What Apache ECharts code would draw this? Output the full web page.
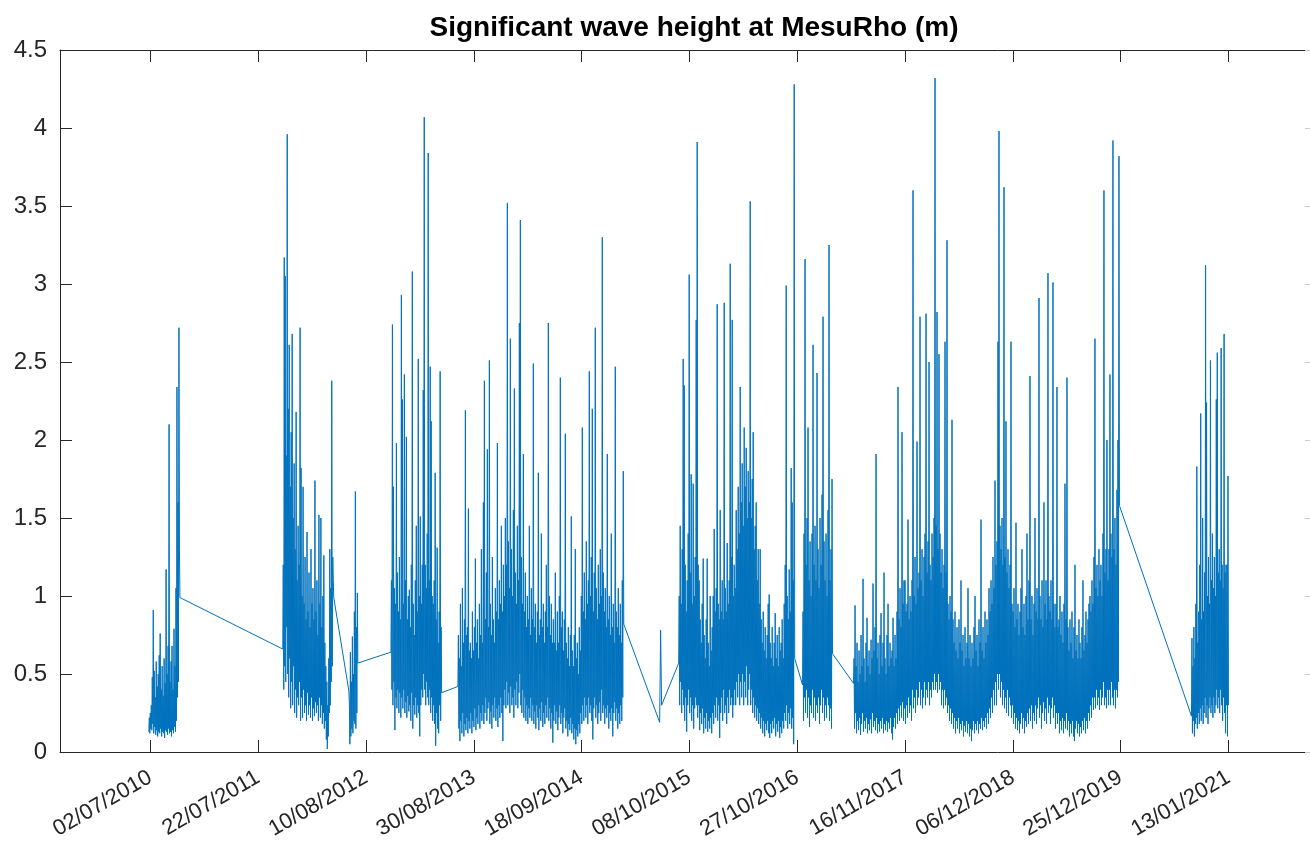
<!DOCTYPE html>
<html>
<head>
<meta charset="utf-8">
<title>Significant wave height at MesuRho</title>
<script src="https://cdn.jsdelivr.net/npm/echarts@6/dist/echarts.min.js"></script>
<style>
  html, body { margin: 0; padding: 0; background: #fff; }
  #chart { width: 1310px; height: 848px; }
</style>
</head>
<body>
<div id="chart"></div>
<script>
// tick dates shown on the time axis (every 385 days)
const tickDates = ['2010-07-02', '2011-07-22', '2012-08-10', '2013-08-30', '2014-09-18',
  '2015-10-08', '2016-10-27', '2017-11-16', '2018-12-06', '2019-12-25', '2021-01-13'];
const axisStart = '2009-08-14';
const axisEnd = '2021-10-31';

// recording periods of the buoy, values evenly spaced inside each period
const segStart = ['2010-06-27', '2011-10-18', '2012-06-10', '2012-11-07', '2013-07-04',
  '2015-06-24', '2015-08-31', '2016-11-15', '2017-05-16', '2020-09-03'];
const segEnd = ['2010-10-16', '2012-04-17', '2012-07-12', '2013-05-07', '2015-02-16',
  '2015-07-01', '2016-10-18', '2017-03-02', '2019-12-21', '2021-01-13'];

// Hs (m)
const hs2010 = [0.13,0.22, 0.12,0.25, 0.15,0.30, 0.14,0.48, 0.18,0.91, 0.12,0.52, 0.16,0.35, 0.11,0.58,
  0.14,0.42, 0.10,0.50, 0.13,0.62, 0.12,0.76, 0.15,0.40, 0.10,0.55, 0.13,0.36, 0.12,0.60, 0.09,0.44,
  0.14,1.17, 0.13,0.50, 0.11,0.68, 0.15,2.10, 0.12,0.45, 0.13,0.58, 0.10,0.68, 0.14,0.40, 0.12,0.79,
  0.16,0.55, 0.13,1.05, 0.20,2.34, 0.35,1.60, 0.45,2.72, 1.30,0.99];
const hs2011 = [0.66,1.20, 0.40,3.17, 0.55,3.05, 0.45,1.90, 0.80,3.96, 0.50,2.20, 0.35,2.61, 0.60,1.70,
  0.28,2.05, 0.45,2.68, 0.30,1.50, 0.55,1.85, 0.25,1.30, 0.40,2.18, 0.22,1.10, 0.35,1.45, 0.30,1.20,
  0.45,2.72, 0.20,1.82, 0.35,1.00, 0.22,1.70, 0.40,0.95, 0.25,1.25, 0.30,0.85, 0.20,1.41, 0.38,0.90,
  0.24,1.15, 0.30,0.80, 0.22,1.30, 0.35,0.95, 0.20,1.05, 0.28,0.85, 0.23,1.74, 0.32,0.90, 0.25,1.10,
  0.30,0.75, 0.20,1.52, 0.35,0.95, 0.22,1.50, 0.30,0.80, 0.18,1.00, 0.25,1.26, 0.15,0.70, 0.20,0.55,
  0.08,0.45, 0.02,0.30, 0.10,0.60, 0.25,1.30, 0.30,1.05, 0.45,2.38, 0.55,1.25, 1.10,0.99];
const hs2012a = [0.39,0.30, 0.05,0.64, 0.10,0.45, 0.15,0.74, 0.12,0.50, 0.20,0.90, 0.18,1.67, 0.15,0.80,
  0.25,1.02, 0.57];
const hs2012b = [0.64,1.10, 0.40,2.74, 0.30,1.70, 0.45,1.05, 0.14,0.95, 0.35,1.98, 0.28,1.15, 0.40,0.90,
  0.25,1.25, 0.38,0.85, 0.22,2.93, 0.35,2.26, 0.28,0.95, 0.40,2.42, 0.25,1.10, 0.32,2.02, 0.22,0.85,
  0.36,1.00, 0.26,1.04, 0.30,0.80, 0.20,1.20, 0.38,3.08, 0.15,0.95, 0.30,0.75, 0.24,1.10, 0.35,1.45,
  0.22,0.90, 0.30,2.52, 0.25,1.00, 0.10,1.51, 0.30,0.95, 0.40,1.20, 0.35,2.32, 0.50,4.07, 0.40,1.20,
  0.30,1.05, 0.45,1.40, 0.35,3.84, 0.30,1.10, 0.40,2.47, 0.25,2.12, 0.35,1.00, 0.20,0.95, 0.30,1.10,
  0.18,1.79, 0.04,0.85, 0.25,1.31, 0.15,0.70, 0.12,0.90, 0.30,2.44, 0.20,0.80, 0.38];
const hs2013 = [0.42,0.75, 0.15,0.60, 0.07,0.95, 0.20,0.55, 0.12,1.05, 0.25,0.70, 0.10,0.85, 0.18,2.19,
  0.14,0.75, 0.22,0.80, 0.12,1.56, 0.20,0.65, 0.15,0.70, 0.25,0.60, 0.12,0.90, 0.20,0.65, 0.16,0.80,
  0.28,1.24, 0.14,0.70, 0.22,0.85, 0.18,0.60, 0.30,0.95, 0.15,0.75, 0.25,1.30, 0.20,0.70, 0.30,1.60,
  0.18,2.38, 0.25,0.85, 0.35,1.15, 0.20,1.94, 0.28,0.80, 0.32,2.51, 0.18,0.95, 0.26,0.75, 0.15,1.25,
  0.30,0.85, 0.22,0.70, 0.35,1.05, 0.20,0.90, 0.28,1.98, 0.16,0.85, 0.30,1.10, 0.22,0.95, 0.35,1.45,
  0.25,0.90, 0.07,1.20, 0.30,1.00, 0.40,1.50, 0.28,1.20, 0.45,3.52, 0.30,1.35, 0.38,1.05, 0.25,2.65,
  0.42,1.30, 0.30,1.00, 0.35,1.55, 0.22,2.33, 0.40,1.15, 0.30,0.95, 0.45,1.45, 0.28,1.10, 0.38,2.75,
  0.50,3.41, 0.30,1.25, 0.25,0.95, 0.40,1.91, 0.22,0.90, 0.35,1.15, 0.20,0.80, 0.30,1.00, 0.18,0.85,
  0.28,1.45, 0.22,0.75, 0.35,1.05, 0.20,0.85, 0.30,2.49, 0.18,0.80, 0.26,0.95, 0.15,0.70, 0.30,0.90,
  0.22,1.79, 0.14,0.75, 0.28,0.85, 0.20,1.40, 0.32,0.80, 0.16,0.95, 0.25,0.70, 0.18,0.90, 0.30,1.20,
  0.22,0.80, 0.35,2.75, 0.20,1.00, 0.28,0.75, 0.15,0.95, 0.25,0.70, 0.06,0.85, 0.20,0.70, 0.30,1.15,
  0.18,0.65, 0.26,0.90, 0.14,0.70, 0.22,1.00, 0.30,2.40, 0.18,0.80, 0.25,0.90, 0.12,0.65, 0.22,0.85,
  0.28,2.04, 0.15,0.70, 0.20,0.60, 0.10,0.80, 0.18,0.55, 0.14,0.75, 0.22,1.51, 0.12,0.65, 0.18,0.55,
  0.08,0.75, 0.15,1.30, 0.05,0.60, 0.14,0.70, 0.10,0.50, 0.18,0.80, 0.12,0.65, 0.25,1.00, 0.18,2.08,
  0.30,0.90, 0.20,1.15, 0.35,0.85, 0.22,1.35, 0.30,0.95, 0.18,1.10, 0.35,2.44, 0.25,1.00, 0.30,1.25,
  0.20,2.20, 0.08,0.90, 0.28,1.15, 0.35,2.72, 0.22,1.05, 0.30,0.85, 0.18,1.20, 0.25,0.95, 0.32,1.30,
  0.20,1.00, 0.40,3.30, 0.25,1.15, 0.30,0.90, 0.18,1.05, 0.28,0.80, 0.22,1.91, 0.30,0.85, 0.15,1.00,
  0.25,0.75, 0.20,1.40, 0.28,0.80, 0.10,0.95, 0.25,0.70, 0.32,2.47, 0.20,0.90, 0.28,0.80, 0.15,1.05,
  0.25,0.75, 0.18,0.95, 0.30,0.70, 0.20,1.10, 0.35,1.80, 0.82];
const hs2015a = [0.19, 0.78, 0.30];
const hs2015b = [0.57,1.00, 0.30,1.45, 0.45,0.95, 0.25,1.30, 0.40,2.52, 0.30,2.35, 0.20,1.20, 0.35,0.90,
  0.13,1.10, 0.30,1.40, 0.40,3.06, 0.25,1.15, 0.35,1.78, 0.20,0.95, 0.30,1.72, 0.15,1.00, 0.28,1.25,
  0.35,2.77, 0.30,3.91, 0.22,1.20, 0.30,1.10, 0.14,0.85, 0.25,0.70, 0.18,0.95, 0.28,1.24, 0.12,0.75,
  0.22,0.60, 0.15,0.85, 0.25,1.24, 0.13,0.70, 0.20,0.55, 0.15,1.00, 0.22,0.65, 0.12,0.80, 0.25,1.00,
  0.18,1.43, 0.30,0.90, 0.22,1.05, 0.35,2.87, 0.20,0.95, 0.30,0.85, 0.09,1.55, 0.25,0.90, 0.35,1.10,
  0.20,0.85, 0.40,2.88, 0.25,1.05, 0.30,0.90, 0.18,1.34, 0.35,0.95, 0.25,1.10, 0.40,3.13, 0.30,1.25,
  0.35,2.77, 0.22,1.00, 0.30,1.20, 0.40,1.05, 0.30,1.55, 0.45,1.30, 0.35,1.70, 0.50,1.40, 0.30,2.34,
  0.45,1.60, 0.35,1.85, 0.50,1.45, 0.30,2.08, 0.45,1.70, 0.35,1.95, 0.55,1.50, 0.30,1.80, 0.40,1.60,
  0.50,3.53, 0.30,1.50, 0.40,1.75, 0.25,2.05, 0.35,1.30, 0.22,1.45, 0.30,1.60, 0.20,1.10, 0.28,1.30,
  0.18,0.95, 0.25,1.30, 0.15,0.85, 0.22,0.70, 0.12,0.90, 0.20,0.65, 0.10,0.80, 0.18,0.60, 0.14,0.75,
  0.20,0.95, 0.12,1.01, 0.09,0.70, 0.18,0.60, 0.12,0.80, 0.20,0.55, 0.15,0.70, 0.22,0.89, 0.10,0.60,
  0.18,0.75, 0.13,0.55, 0.20,0.80, 0.09,0.65, 0.16,0.70, 0.12,0.85, 0.20,0.60, 0.15,0.95, 0.25,1.20,
  0.20,2.99, 0.30,1.00, 0.15,0.85, 0.25,1.17, 0.18,0.90, 0.28,1.82, 0.15,1.60, 0.22,1.10, 0.05,4.28,
  0.60];
const hs2016 = [0.43,0.90, 0.20,1.40, 0.35,3.16, 0.25,1.20, 0.40,1.50, 0.22,2.08, 0.35,1.10, 0.16,1.35,
  0.30,1.00, 0.25,1.40, 0.40,2.61, 0.22,1.20, 0.35,1.45, 0.20,1.10, 0.30,2.43, 0.25,1.30, 0.35,1.05,
  0.18,1.50, 0.30,1.20, 0.40,1.65, 0.25,2.79, 0.35,1.35, 0.20,1.10, 0.30,1.40, 0.22,1.00, 0.35,1.55,
  0.30,3.25, 0.20,1.10, 0.28,1.30, 0.15,1.75, 0.63];
const hs2017 = [0.44,0.60, 0.15,0.94, 0.25,0.55, 0.12,0.70, 0.20,0.45, 0.14,0.65, 0.22,0.50, 0.11,0.75,
  0.18,0.55, 0.25,1.11, 0.13,0.60, 0.20,0.45, 0.15,0.70, 0.22,0.86, 0.12,0.55, 0.18,0.65, 0.14,0.50,
  0.21,0.72, 0.12,0.60, 0.25,1.08, 0.16,0.65, 0.20,0.80, 0.14,1.91, 0.22,0.60, 0.12,0.70, 0.18,0.50,
  0.13,0.75, 0.20,0.89, 0.15,0.55, 0.22,0.70, 0.12,1.15, 0.18,0.60, 0.14,0.50, 0.20,0.75, 0.13,0.95,
  0.19,0.55, 0.15,0.70, 0.22,0.60, 0.12,0.65, 0.08,0.86, 0.16,0.55, 0.22,0.75, 0.15,0.60, 0.25,0.90,
  0.18,2.34, 0.28,0.85, 0.20,1.05, 0.30,0.80, 0.22,2.05, 0.32,0.95, 0.20,1.10, 0.28,1.10, 0.18,0.90,
  0.30,0.95, 0.22,1.49, 0.35,0.85, 0.25,1.00, 0.30,0.90, 0.20,1.10, 0.40,3.60, 0.28,1.00, 0.35,1.25,
  0.25,0.95, 0.40,1.99, 0.30,1.05, 0.35,1.15, 0.45,2.79, 0.30,1.10, 0.40,1.30, 0.28,1.00, 0.35,1.25,
  0.45,1.40, 0.30,2.81, 0.40,1.15, 0.35,1.35, 0.45,2.50, 0.30,1.20, 0.40,1.10, 0.35,1.40, 0.45,1.25,
  0.40,1.50, 0.50,4.32, 0.40,1.45, 0.45,2.82, 0.38,1.30, 0.50,2.55, 0.40,1.40, 0.45,1.15, 0.30,1.30,
  0.40,1.05, 0.28,1.20, 0.40,2.63, 0.30,1.15, 0.35,3.28, 0.25,0.95, 0.30,0.85, 0.20,1.00, 0.28,0.90,
  0.18,2.13, 0.25,0.85, 0.15,0.70, 0.22,0.90, 0.12,0.65, 0.20,0.80, 0.15,0.60, 0.22,0.85, 0.12,0.70,
  0.18,1.10, 0.14,0.65, 0.20,0.75, 0.10,0.55, 0.17,0.80, 0.13,0.60, 0.20,0.70, 0.12,1.05, 0.18,0.60,
  0.10,0.75, 0.15,0.55, 0.07,0.70, 0.14,0.60, 0.20,0.80, 0.12,1.00, 0.18,0.65, 0.14,0.75, 0.20,0.55,
  0.12,0.85, 0.18,0.70, 0.15,1.49, 0.22,0.65, 0.14,0.80, 0.20,0.60, 0.16,0.90, 0.22,0.70, 0.15,0.85,
  0.25,0.75, 0.18,1.05, 0.28,0.90, 0.22,1.10, 0.35,0.95, 0.25,1.25, 0.40,1.05, 0.30,1.74, 0.45,1.20,
  0.30,1.35, 0.50,2.63, 0.40,3.98, 0.50,1.45, 0.35,1.30, 0.45,1.50, 0.30,1.20, 0.40,3.62, 0.28,1.25,
  0.35,2.12, 0.25,1.15, 0.40,1.30, 0.23,1.05, 0.35,1.20, 0.30,2.63, 0.22,0.95, 0.30,0.90, 0.18,1.05,
  0.25,0.80, 0.15,1.47, 0.22,0.85, 0.14,0.95, 0.20,0.75, 0.12,0.90, 0.18,1.05, 0.25,1.30, 0.15,0.80,
  0.22,0.95, 0.12,0.75, 0.20,1.00, 0.16,1.40, 0.25,0.85, 0.18,1.10, 0.28,2.41, 0.20,0.85, 0.30,1.00,
  0.15,0.75, 0.25,0.95, 0.20,1.50, 0.30,0.90, 0.18,1.05, 0.28,0.85, 0.35,2.91, 0.22,1.00, 0.30,0.85,
  0.15,1.10, 0.25,0.80, 0.32,1.60, 0.20,0.95, 0.28,1.10, 0.18,0.85, 0.35,3.07, 0.25,1.00, 0.30,0.90,
  0.18,1.10, 0.28,0.85, 0.35,3.01, 0.22,0.95, 0.30,0.80, 0.15,0.95, 0.25,2.34, 0.18,0.80, 0.25,0.85,
  0.12,1.00, 0.20,0.75, 0.14,0.90, 0.22,0.70, 0.12,0.95, 0.20,1.72, 0.15,0.85, 0.25,2.40, 0.14,0.80,
  0.20,0.65, 0.10,0.85, 0.18,0.70, 0.12,0.90, 0.20,0.60, 0.10,0.80, 0.07,1.20, 0.15,0.65, 0.20,0.75,
  0.12,0.60, 0.18,0.85, 0.10,0.70, 0.16,0.60, 0.12,0.80, 0.20,1.10, 0.14,0.65, 0.22,0.75, 0.12,0.90,
  0.20,0.70, 0.15,0.85, 0.25,0.95, 0.20,1.00, 0.30,0.90, 0.22,1.10, 0.35,0.95, 0.27,1.25, 0.35,2.65,
  0.28,1.05, 0.40,1.20, 0.30,1.00, 0.35,1.30, 0.27,1.10, 0.40,1.20, 0.30,1.00, 0.35,1.40, 0.45,3.60,
  0.30,1.15, 0.35,1.30, 0.28,2.00, 0.40,1.10, 0.30,1.30, 0.40,2.42, 0.30,1.40, 0.45,1.25, 0.35,3.92,
  0.30,1.30, 0.40,1.50, 0.28,1.20, 0.40,1.68, 0.35,2.00, 0.45,3.82, 1.58];
const hs2020 = [0.23,0.73, 0.12,0.55, 0.20,0.80, 0.10,0.60, 0.18,0.95, 0.22,1.83, 0.15,0.70, 0.25,0.90,
  0.18,1.20, 0.28,2.17, 0.20,0.85, 0.30,1.50, 0.18,0.90, 0.25,1.15, 0.35,3.12, 0.22,2.24, 0.30,1.00,
  0.18,1.25, 0.28,0.95, 0.35,2.51, 0.25,1.10, 0.30,1.40, 0.22,1.05, 0.35,1.25, 0.25,1.00, 0.30,2.26,
  0.40,2.56, 0.28,1.15, 0.35,1.30, 0.25,1.10, 0.40,2.59, 0.30,1.20, 0.20,1.05, 0.35,2.68, 0.25,1.15,
  0.12,1.20, 0.30,1.20, 0.10,1.77, 0.30];

const segValues = [hs2010, hs2011, hs2012a, hs2012b, hs2013, hs2015a, hs2015b, hs2016, hs2017, hs2020];

// x is counted in days from the first tick date
const DAY = 86400000;
const t0 = new Date(tickDates[0] + 'T00:00:00Z').getTime();
const dayNo = (s) => (new Date(s + 'T00:00:00Z').getTime() - t0) / DAY;
const pad = (n) => (n < 10 ? '0' : '') + n;
const fmtDay = (v) => {
  const d = new Date(t0 + Math.round(v) * DAY);
  return pad(d.getUTCDate()) + '/' + pad(d.getUTCMonth() + 1) + '/' + d.getUTCFullYear();
};

// one continuous line, like the original plot (gaps get bridged)
let seriesData = [];
segValues.forEach((vals, i) => {
  const a = dayNo(segStart[i]);
  const b = dayNo(segEnd[i]);
  const step = vals.length > 1 ? (b - a) / (vals.length - 1) : 0;
  vals.forEach((v, k) => seriesData.push([a + k * step, v]));
});

const ticks = tickDates.map(dayNo);
const axisColor = '#262626';
const font = 'Liberation Sans, Helvetica, Arial, sans-serif';

const chart = echarts.init(document.getElementById('chart'));
chart.setOption({
  animation: false,
  backgroundColor: '#ffffff',
  title: {
    text: 'Significant wave height at MesuRho (m)',
    left: 689,
    top: 9,
    textAlign: 'center',
    textStyle: { fontFamily: font, fontSize: 28, fontWeight: 'bold', color: '#000' }
  },
  grid: { left: 60, top: 50, right: 0, height: 702, containLabel: false },
  xAxis: [
    {
      type: 'value',
      position: 'bottom',
      min: dayNo(axisStart),
      max: dayNo(axisEnd),
      splitLine: { show: false },
      axisLine: { show: true, onZero: false, lineStyle: { color: axisColor, width: 1 } },
      axisTick: { show: true, inside: true, length: 12, customValues: ticks,
        lineStyle: { color: axisColor } },
      axisLabel: {
        customValues: ticks,
        formatter: (v) => fmtDay(v),
        rotate: 30,
        margin: 24,
        fontFamily: font,
        fontSize: 22,
        color: axisColor
      }
    },
    {
      type: 'value',
      position: 'top',
      min: dayNo(axisStart),
      max: dayNo(axisEnd),
      splitLine: { show: false },
      axisLine: { show: true, onZero: false, lineStyle: { color: axisColor, width: 1 } },
      axisTick: { show: true, inside: true, length: 12, customValues: ticks,
        lineStyle: { color: axisColor } },
      axisLabel: { show: false }
    }
  ],
  yAxis: [
    {
      type: 'value',
      position: 'left',
      min: 0,
      max: 4.5,
      interval: 0.5,
      splitLine: { show: false },
      axisLine: { show: true, onZero: false, lineStyle: { color: axisColor, width: 1 } },
      axisTick: { show: true, inside: true, length: 12, lineStyle: { color: axisColor } },
      axisLabel: { margin: 13, fontFamily: font, fontSize: 24, color: axisColor }
    },
    {
      type: 'value',
      position: 'right',
      min: 0,
      max: 4.5,
      interval: 0.5,
      splitLine: { show: false },
      axisLine: { show: false, onZero: false },
      axisTick: { show: true, inside: true, length: 5, lineStyle: { color: '#c8c8c8' } },
      axisLabel: { show: false }
    }
  ],
  series: [
    {
      name: 'Hs',
      type: 'line',
      xAxisIndex: 0,
      yAxisIndex: 0,
      data: seriesData,
      showSymbol: false,
      symbol: 'none',
      lineStyle: { color: '#0072BD', width: 1 },
      emphasis: { disabled: true }
    }
  ]
});
</script>
</body>
</html>
